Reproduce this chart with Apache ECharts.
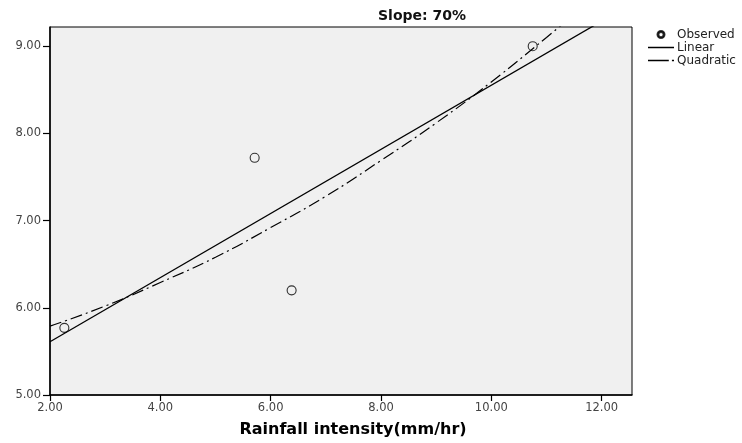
<!DOCTYPE html>
<html>
<head>
<meta charset="utf-8">
<script src="https://cdn.jsdelivr.net/npm/echarts@6/dist/echarts.min.js"></script>
<style>
  html, body { margin: 0; padding: 0; background: #fff; }
  #chart { width: 742px; height: 443px; }
</style>
</head>
<body>
<div id="chart"></div>
<script>
// observed points
var obsX = [2.26, 5.71, 6.38, 10.75];
var obsY = [5.77, 7.72, 6.2, 9.0];

// fitted lines (linear ends, quadratic samples)
var linX = [2, 12.55];
var linY = [5.61, 9.49];
var quadX = [2, 3, 4, 5, 6, 7, 8, 9, 10, 11, 11.5];
var quadY = [5.79, 6.02, 6.29, 6.58, 6.92, 7.28, 7.69, 8.12, 8.59, 9.1, 9.36];

var xTicks = [2, 4, 6, 8, 10, 12];
var yTicks = [5, 6, 7, 8, 9];

function pairs(xs, ys) {
    var out = [];
    for (var i = 0; i < xs.length; i++) out.push([xs[i], ys[i]]);
    return out;
}

var myChart = echarts.init(document.getElementById('chart'));

var labelFont = {
    fontFamily: 'DejaVu Sans',
    fontSize: 11.5,
    color: '#444'
};

// legend icons: hollow ring, solid line, dash-dot line
var ringIcon = 'path://M0,4 A4,4 0 1,1 8,4 A4,4 0 1,1 0,4 Z ' +
    'M1,4 A3,3 0 1,0 7,4 A3,3 0 1,0 1,4 Z';
var lineIcon = 'path://M0,0 L26,0 L26,1.5 L0,1.5 Z';
var dashDotIcon = 'path://M0,0 L20,0 L20,1.5 L0,1.5 Z M23,0 L25,0 L25,1.5 L23,1.5 Z';

var option = {
    animation: false,
    title: {
        text: 'Slope: 70%',
        left: 422,
        textAlign: 'center',
        top: 9,
        padding: 0,
        textStyle: {
            fontFamily: 'DejaVu Sans',
            fontSize: 14,
            fontWeight: 'bold',
            color: '#111'
        }
    },
    legend: {
        orient: 'vertical',
        left: 648,
        top: 28,
        padding: 0,
        itemGap: 0,
        itemWidth: 26,
        itemHeight: 7,
        textStyle: {
            fontFamily: 'DejaVu Sans',
            fontSize: 12,
            lineHeight: 13,
            color: '#222',
            padding: [0, 0, 0, -2]
        },
        data: [
            { name: 'Observed', icon: ringIcon, itemStyle: { color: '#000' } },
            { name: 'Linear', icon: lineIcon },
            { name: 'Quadratic', icon: dashDotIcon }
        ]
    },
    grid: {
        left: 50,
        right: 110,
        top: 27,
        bottom: 48,
        outerBoundsMode: 'none',
        show: true,
        backgroundColor: '#f0f0f0',
        borderColor: '#000',
        borderWidth: 1
    },
    xAxis: {
        type: 'value',
        min: 2,
        max: 12.55,
        interval: 2,
        name: 'Rainfall intensity(mm/hr)',
        nameLocation: 'middle',
        nameGap: 27,
        nameTextStyle: {
            fontFamily: 'DejaVu Sans',
            fontSize: 16,
            fontWeight: 'bold',
            color: '#000',
            padding: [0, 0, 0, 24]
        },
        splitLine: { show: false },
        axisLine: { lineStyle: { color: '#000', width: 1.5 } },
        axisTick: { length: 6, customValues: xTicks, lineStyle: { color: '#000', width: 1.2 } },
        axisLabel: Object.assign({
            margin: 7,
            customValues: xTicks,
            formatter: function (v) { return v.toFixed(2); }
        }, labelFont)
    },
    yAxis: {
        type: 'value',
        min: 5,
        max: 9.22,
        interval: 1,
        splitLine: { show: false },
        axisLine: { lineStyle: { color: '#000', width: 1.5 } },
        axisTick: { length: 7, customValues: yTicks, lineStyle: { color: '#000', width: 1.2 } },
        axisLabel: Object.assign({
            margin: 9,
            customValues: yTicks,
            formatter: function (v) { return v.toFixed(2); }
        }, labelFont)
    },
    series: [
        {
            name: 'Observed',
            type: 'scatter',
            symbol: 'circle',
            symbolSize: 9,
            itemStyle: { color: 'rgba(0,0,0,0)', borderColor: '#000', borderWidth: 1.1 },
            data: pairs(obsX, obsY)
        },
        {
            name: 'Linear',
            type: 'line',
            showSymbol: false,
            symbol: 'none',
            color: '#000',
            lineStyle: { color: '#000', width: 1.3 },
            data: pairs(linX, linY)
        },
        {
            name: 'Quadratic',
            type: 'line',
            smooth: true,
            showSymbol: false,
            symbol: 'none',
            color: '#000',
            lineStyle: { color: '#000', width: 1.2, type: [12, 4, 2, 4] },
            data: pairs(quadX, quadY)
        }
    ]
};
myChart.setOption(option);
</script>
</body>
</html>
